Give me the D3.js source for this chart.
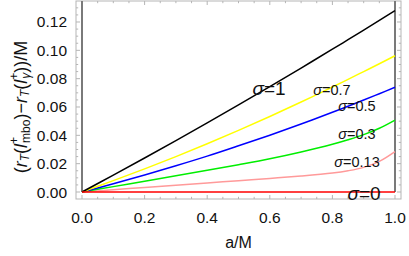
<!DOCTYPE html>
<html lang="en">
<head>
    <meta charset="UTF-8">
    <title>r_T difference vs a/M</title>
    <script src="https://d3js.org/d3.v7.min.js"></script>
    <style>
        body { margin: 0; background: #fff; }
        svg { display: block; font-family: "Liberation Sans", Arial, sans-serif; }
        .frame { stroke: #b5b5b5; stroke-width: 1; fill: none; }
        .tick { stroke: #b5b5b5; stroke-width: 1; }
        .ticklabel { font-size: 15.5px; fill: #111; }
        .curve { fill: none; stroke-width: 1.5px; }
    </style>
</head>
<body>
<svg width="409" height="256"></svg>
<script>
    // spin values
    const aVals = [0, 0.1, 0.2, 0.3, 0.4, 0.5, 0.6, 0.7, 0.8, 0.85, 0.9, 0.95, 1.0];
    const sigma1 = [0, 0.0119, 0.0240, 0.0363, 0.0488, 0.0615, 0.0744, 0.0875, 0.1008, 0.1075, 0.1143, 0.1211, 0.1280];
    const sigma07 = [0, 0.0080, 0.0163, 0.0250, 0.0341, 0.0435, 0.0533, 0.0635, 0.0741, 0.0795, 0.0850, 0.0905, 0.0962];
    const sigma05 = [0, 0.0058, 0.0120, 0.0185, 0.0253, 0.0326, 0.0401, 0.0480, 0.0563, 0.0605, 0.0649, 0.0694, 0.0739];
    const sigma03 = [0, 0.0038, 0.0076, 0.0114, 0.0153, 0.0193, 0.0235, 0.0283, 0.0337, 0.0369, 0.0405, 0.0450, 0.0508];
    const sigma013 = [0, 0.0016, 0.0032, 0.0048, 0.0064, 0.0080, 0.0096, 0.0113, 0.0134, 0.0150, 0.0174, 0.0216, 0.0285];
    const sigma0 = [0, 0, 0, 0, 0, 0, 0, 0, 0, 0, 0, 0, 0];

    const yTicks = [0, 0.02, 0.04, 0.06, 0.08, 0.10, 0.12];
    const yTickLabels = ["0.00", "0.02", "0.04", "0.06", "0.08", "0.10", "0.12"];
    const xTicks = [0, 0.2, 0.4, 0.6, 0.8, 1.0];
    const xTickLabels = ["0.0", "0.2", "0.4", "0.6", "0.8", "1.0"];

    const series = [
        {vals: sigma013, color: "#ff9a9a", label: "0.13", lx: 357, ly: 162, size: 14.5},
        {vals: sigma03, color: "#00ee00", label: "0.3", lx: 357, ly: 134, size: 14.5},
        {vals: sigma05, color: "#0000ff", label: "0.5", lx: 357, ly: 105.5, size: 14.5},
        {vals: sigma07, color: "#ffff00", label: "0.7", lx: 332, ly: 89.5, size: 14.5},
        {vals: sigma1, color: "#000000", label: "1", lx: 269, ly: 88, size: 19},
        {vals: sigma0, color: "#ff0000", label: "0", lx: 364, ly: 193, size: 19}
    ];

    const svg = d3.select("svg");
    const pLeft = 76, pRight = 401, pTop = 1, pBottom = 199;

    const x = d3.scaleLinear().domain([-0.0192, 1.0192]).range([pLeft, pRight]);
    const y = d3.scaleLinear().domain([-0.00494, 0.13482]).range([pBottom, pTop]);

    // minor + major ticks on all four sides
    const xMinor = d3.range(0, 1.0001, 0.05);
    const yMinor = d3.range(0, 0.1301, 0.005);
    const tickG = svg.append("g");
    xMinor.forEach((v, i) => {
        const len = i % 4 === 0 ? 4 : 2.2;
        tickG.append("line").attr("class", "tick")
            .attr("x1", x(v)).attr("x2", x(v)).attr("y1", pBottom).attr("y2", pBottom - len);
        tickG.append("line").attr("class", "tick")
            .attr("x1", x(v)).attr("x2", x(v)).attr("y1", pTop).attr("y2", pTop + len);
    });
    yMinor.forEach((v, i) => {
        const len = i % 4 === 0 ? 4 : 2.2;
        tickG.append("line").attr("class", "tick")
            .attr("x1", pLeft).attr("x2", pLeft + len).attr("y1", y(v)).attr("y2", y(v));
        tickG.append("line").attr("class", "tick")
            .attr("x1", pRight).attr("x2", pRight - len).attr("y1", y(v)).attr("y2", y(v));
    });

    svg.append("rect").attr("class", "frame")
        .attr("x", pLeft).attr("y", pTop).attr("width", pRight - pLeft).attr("height", pBottom - pTop);

    // dark guide lines at a = 0 and a = 1
    [0, 1].forEach(v => {
        svg.append("line")
            .attr("x1", x(v)).attr("x2", x(v))
            .attr("y1", y(0)).attr("y2", pTop)
            .attr("stroke", "#7a7a7a").attr("stroke-width", 2);
    });

    const line = d3.line()
        .x((d, i) => x(aVals[i]))
        .y(d => y(d))
        .curve(d3.curveCatmullRom);

    series.forEach(s => {
        svg.append("path").attr("class", "curve")
            .attr("d", line(s.vals))
            .attr("stroke", s.color);
    });

    // tick labels
    yTicks.forEach((v, i) => {
        svg.append("text").attr("class", "ticklabel")
            .attr("x", 67).attr("y", y(v))
            .attr("text-anchor", "end").attr("dominant-baseline", "central")
            .text(yTickLabels[i]);
    });
    xTicks.forEach((v, i) => {
        svg.append("text").attr("class", "ticklabel")
            .attr("x", x(v)).attr("y", 217)
            .attr("text-anchor", "middle").attr("dominant-baseline", "central")
            .text(xTickLabels[i]);
    });

    // curve labels
    series.forEach(s => {
        const t = svg.append("text")
            .attr("x", s.lx).attr("y", s.ly)
            .attr("text-anchor", "middle").attr("dominant-baseline", "central")
            .style("font-size", s.size + "px").attr("fill", "#111");
        t.append("tspan").style("font-style", "italic").text("σ");
        t.append("tspan").text("=" + s.label);
    });

    // axis titles
    svg.append("text")
        .attr("x", x(0.5)).attr("y", 242)
        .attr("text-anchor", "middle").attr("dominant-baseline", "central")
        .style("font-size", "16px").attr("fill", "#111")
        .text("a/M");

    const yl = svg.append("text")
        .attr("transform", "translate(21,107) rotate(-90)")
        .attr("text-anchor", "middle").attr("dominant-baseline", "central")
        .style("font-size", "18px").attr("fill", "#111");
    yl.append("tspan").text("(");
    yl.append("tspan").style("font-style", "italic").text("r");
    yl.append("tspan").style("font-style", "italic").style("font-size", "12px").attr("dy", 4).text("T");
    yl.append("tspan").attr("dy", -4).text("(");
    yl.append("tspan").style("font-style", "italic").text("l");
    yl.append("tspan").style("font-size", "12px").attr("dy", -7).text("+");
    yl.append("tspan").style("font-size", "12px").attr("dx", -6).attr("dy", 12).text("mbo");
    yl.append("tspan").attr("dy", -5).text(")\u2212");
    yl.append("tspan").style("font-style", "italic").text("r");
    yl.append("tspan").style("font-style", "italic").style("font-size", "12px").attr("dy", 4).text("T");
    yl.append("tspan").attr("dy", -4).text("(");
    yl.append("tspan").style("font-style", "italic").text("l");
    yl.append("tspan").style("font-size", "12px").attr("dy", -7).text("+");
    yl.append("tspan").style("font-style", "italic").style("font-size", "12px").attr("dx", -6).attr("dy", 12).text("γ");
    yl.append("tspan").attr("dy", -5).text("))/M");
</script>
</body>
</html>
